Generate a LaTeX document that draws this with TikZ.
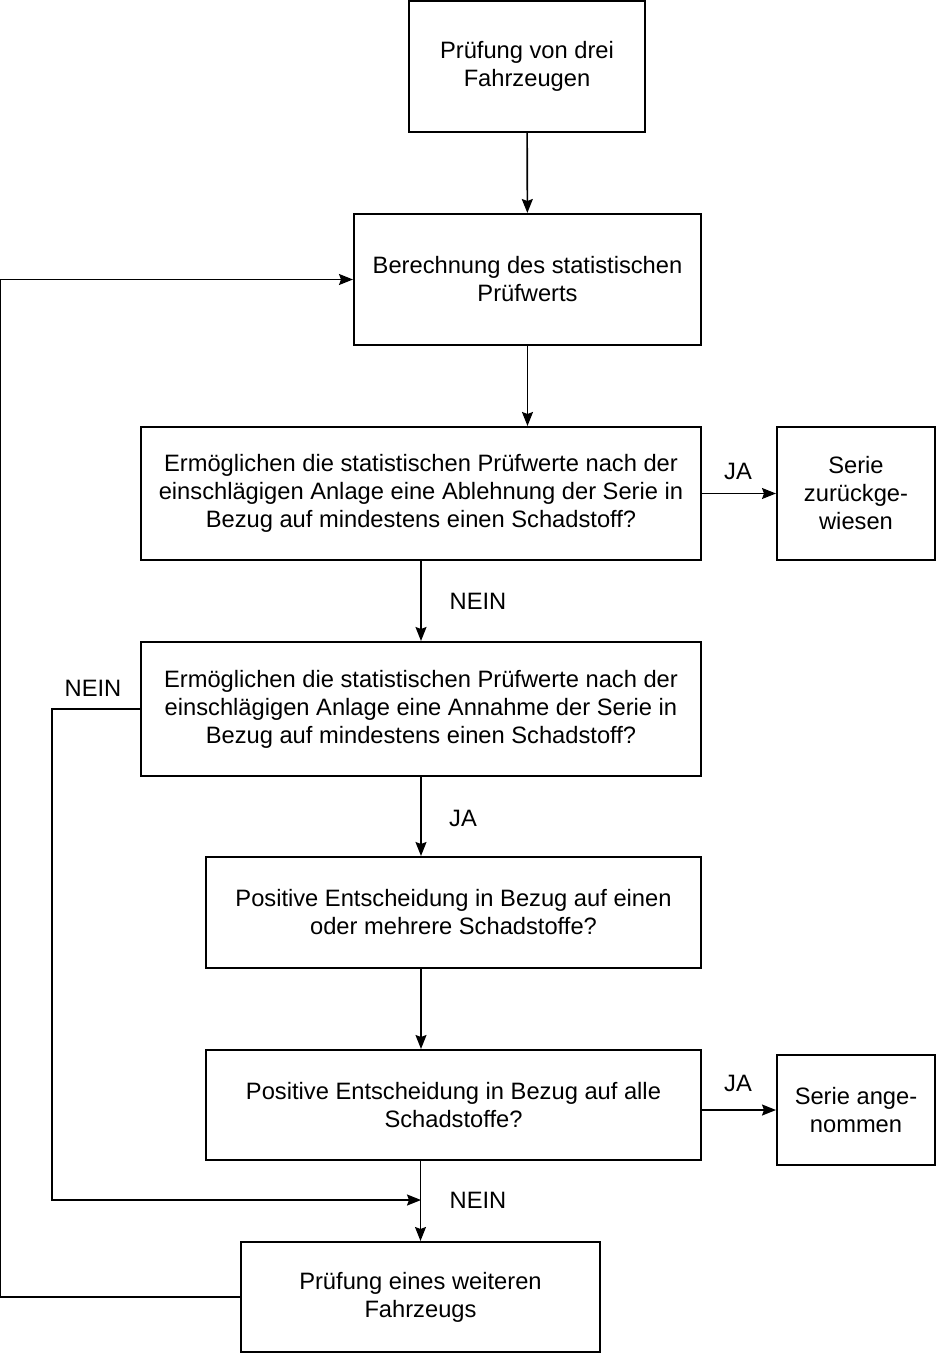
\documentclass[tikz,border=0pt]{standalone}
\usepackage{fontspec}
\setmainfont{Liberation Sans}
\usetikzlibrary{arrows, arrows.meta, positioning}

\begin{document}
\begin{tikzpicture}[x=0.5pt,y=-0.5pt]

\tikzset{box/.style = {draw, line width=1pt, align=center, inner sep=0pt,
  font=\fontsize{11.85}{14}\selectfont}}
\tikzset{lbl/.style = {font=\fontsize{11.85}{14}\selectfont, inner sep=0pt}}
\tikzset{every path/.style = {line width=0.8pt}}
\tikzset{arr/.style = {-{Stealth[length=7pt,width=5.5pt,inset=1pt]}}}
\useasboundingbox (0,0) rectangle (936,1353);
% boxes
\node[box, minimum width=118pt, minimum height=65.5pt] (start) at (527,66.5) {Prüfung von drei\\Fahrzeugen};
\node[box, minimum width=173.5pt, minimum height=65.5pt] (calc) at (527.5,279.5) {Berechnung des statistischen\\Prüfwerts};
\node[box, minimum width=280pt, minimum height=66.5pt] (reject) at (421,493.5) {Ermöglichen die statistischen Prüfwerte nach der\\einschlägigen Anlage eine Ablehnung der Serie in\\Bezug auf mindestens einen Schadstoff?};
\node[box, minimum width=79pt, minimum height=66.5pt] (refused) at (856,493.5) {Serie\\zurückge-\\wiesen};
\node[box, minimum width=280pt, minimum height=67pt] (accept) at (421,709) {Ermöglichen die statistischen Prüfwerte nach der\\einschlägigen Anlage eine Annahme der Serie in\\Bezug auf mindestens einen Schadstoff?};
\node[box, minimum width=247.5pt, minimum height=55.5pt] (some) at (453.5,912.5) {Positive Entscheidung in Bezug auf einen\\oder mehrere Schadstoffe?};
\node[box, minimum width=247.5pt, minimum height=55pt] (all) at (453.5,1105) {Positive Entscheidung in Bezug auf alle\\Schadstoffe?};
\node[box, minimum width=79pt, minimum height=55pt] (accepted) at (856,1110) {Serie ange-\\nommen};
\node[box, minimum width=179.5pt, minimum height=55pt] (next) at (420.5,1297) {Prüfung eines weiteren\\Fahrzeugs};
\coordinate (join) at (421,1200);
% labels
\node[lbl] (ja1) at (738,471) {JA};
\node[lbl] (nein1) at (478,601) {NEIN};
\node[lbl] (nein2) at (93,688) {NEIN};
\node[lbl] (ja2) at (463,818) {JA};
\node[lbl] (ja3) at (738,1083) {JA};
\node[lbl] (nein3) at (478,1200) {NEIN};
%edges
\draw[arr] (start) -- (calc);
\draw[arr] (calc.south) -- (calc.south |- reject.north);
\draw[arr] (reject.east |- refused.west) -- (refused.west);
\draw[arr] (reject.south) -- (accept.north);
\draw[arr] (accept.south) -- (accept.south |- some.north);
\draw[arr] (some.south -| accept.south) -- (all.north -| accept.south);
\draw[arr] (all.east |- accepted.west) -- (accepted.west);
\draw[arr] (all.south -| next.north) -- (next.north);
\draw[arr] (accept.west) -- ++(-88,0) |- (join);
\draw[arr] (next.west) -- ++(-239.5,0) |- (calc.west);
\end{tikzpicture}
\end{document}
